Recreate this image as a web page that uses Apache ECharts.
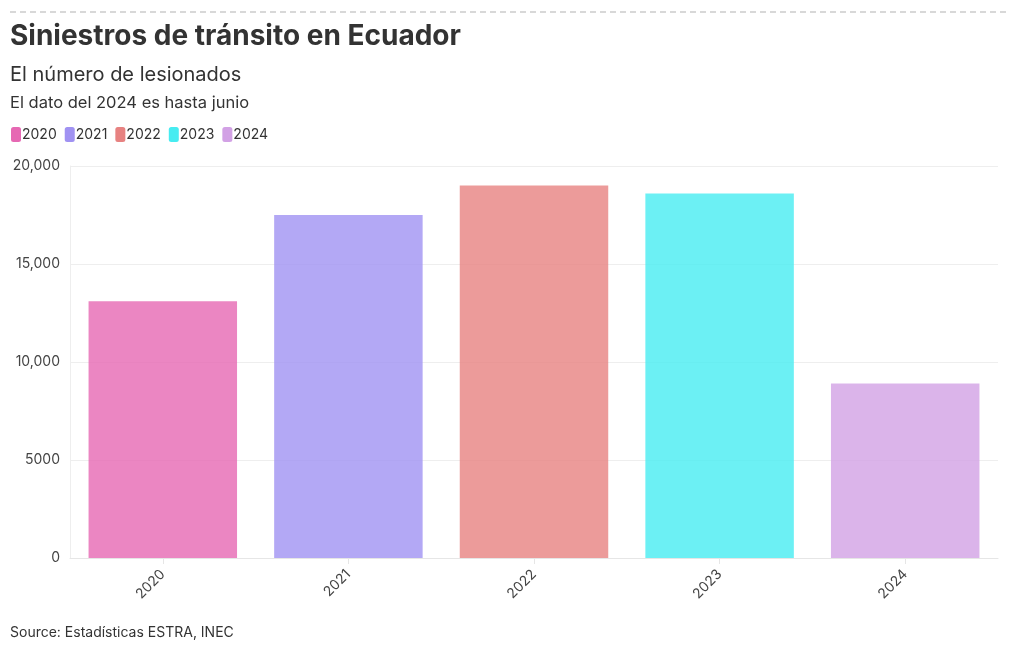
<!DOCTYPE html>
<html><head><meta charset="utf-8">
<script src="https://cdn.jsdelivr.net/npm/echarts@6/dist/echarts.min.js"></script>
<style>html,body{margin:0;padding:0;background:#fff}#c{width:1020px;height:650px}</style>
</head><body><div id="c"></div>
<script>
const years = ['2020','2021','2022','2023','2024'];
const values = [13100, 17500, 19000, 18600, 8900];
const colors = ['#e668b3','#a092f2','#e78281','#47ecf1','#d2a1e5'];
const yTicks = [0, 5000, 10000, 15000, 20000];

const FONT = 'Inter, "Noto Sans", sans-serif';
const chart = echarts.init(document.getElementById('c'), null, {renderer:'canvas'});
const series = years.map((y, j) => ({
  name: y,
  type: 'bar',
  data: values.map((v, i) => i === j ? v : '-'),
  barWidth: '80%',
  barGap: '-100%',
  itemStyle: { color: colors[j], opacity: 0.8 },
  emphasis: { disabled: true }
}));
chart.setOption({
  animation: false,
  textStyle: { fontFamily: FONT },
  title: [
    { text: 'Siniestros de tránsito en Ecuador', left: 5, top: 18,
      textStyle: { fontFamily: FONT, fontSize: 28, fontWeight: 'bold', color: '#333' } },
    { text: 'El número de lesionados', left: 5, top: 60,
      textStyle: { fontFamily: FONT, fontSize: 20, fontWeight: 'normal', color: '#333' } },
    { text: 'El dato del 2024 es hasta junio', left: 5, top: 90,
      textStyle: { fontFamily: FONT, fontSize: 16.5, fontWeight: 'normal', color: '#333' } },
    { text: 'Source: Estadísticas ESTRA, INEC', left: 5, top: 621,
      textStyle: { fontFamily: FONT, fontSize: 14, fontWeight: 'normal', color: '#333' } }
  ],
  graphic: [{
    type: 'line', shape: { x1: 10, y1: 12, x2: 1010, y2: 12 },
    style: { stroke: '#cccccc', lineWidth: 1.5, lineDash: [6, 4] }
  }],
  legend: {
    left: 6, top: 122, itemWidth: 10, itemHeight: 15, itemGap: 8,
    icon: 'roundRect', selectedMode: false,
    itemStyle: { opacity: 1 },
    textStyle: { fontFamily: FONT, fontSize: 14, color: '#333', padding: [0,0,0,-4] },
    data: years
  },
  grid: { left: 70, right: 22, top: 166, bottom: 92, containLabel: false },
  xAxis: {
    type: 'category', data: years,
    axisLine: { show: true, lineStyle: { color: '#e6e6e6' } },
    axisTick: { show: true, alignWithLabel: true, length: 6, lineStyle: { color: '#e6e6e6' } },
    axisLabel: { rotate: 45, fontFamily: FONT, fontSize: 14, color: '#444', margin: 14 }
  },
  yAxis: {
    type: 'value', min: 0, max: 20000, interval: 5000,
    axisLine: { show: true, lineStyle: { color: '#eeeeee' } },
    axisTick: { show: false },
    splitLine: { lineStyle: { color: '#eeeeee' } },
    axisLabel: { fontFamily: FONT, fontSize: 14, color: '#444', margin: 10,
      formatter: v => v >= 10000 ? v.toLocaleString('en-US') : String(v) }
  },
  series: series
});
</script></body></html>
